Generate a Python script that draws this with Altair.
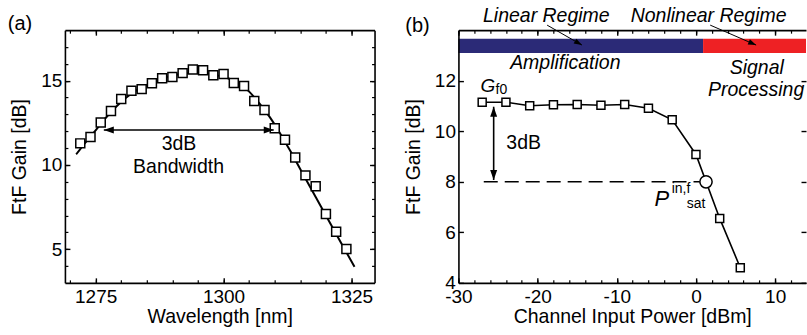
import altair as alt
import pandas as pd

FONT = "Liberation Sans"
BLACK = "#000000"
BLUE = "#2B2A77"
RED = "#EE2124"

# ---------------- panel (a) data ----------------
wavelength = [1272, 1274, 1276, 1278, 1280, 1282, 1284, 1286, 1288, 1290, 1292, 1294, 1296, 1298,
              1300, 1302, 1304, 1306, 1308, 1310, 1312, 1314, 1316, 1318, 1320, 1322, 1324]
gain_a = [11.28, 11.66, 12.52, 13.20, 13.92, 14.41, 14.50, 14.85, 15.14, 15.22, 15.45, 15.67, 15.62, 15.33,
          15.40, 14.87, 14.68, 13.79, 13.26, 12.18, 11.49, 10.44, 9.38, 8.73, 7.09, 6.04, 5.01]
fit_wavelength = [1271.2, 1273, 1275, 1277, 1279, 1281, 1283, 1285, 1287, 1289, 1291, 1293, 1295, 1297,
                  1299, 1300.8, 1303, 1305, 1307, 1309, 1311, 1313, 1315, 1317, 1319, 1321, 1323, 1325.6]
fit_gain = [10.63, 11.33, 12.05, 12.80, 13.45, 14.00, 14.42, 14.75, 15.02, 15.22, 15.37, 15.45, 15.47, 15.42,
            15.30, 15.15, 14.85, 14.35, 13.65, 12.85, 11.90, 10.85, 9.75, 8.65, 7.55, 6.45, 5.35, 3.95]
bw_left = [1276.6]
bw_right = [1309.8]
bw_level = [12.07]
bw_labels = ["3dB", "Bandwidth"]
bw_label_x = [1291.3, 1291.2]
bw_label_y = [11.22, 9.90]
a_x_major = [1275, 1300, 1325]
a_x_minor = [1270, 1275, 1280, 1285, 1290, 1295, 1300, 1305, 1310, 1315, 1320, 1325]
a_y_major = [5, 10, 15]
a_y_minor = [4, 5, 6, 7, 8, 9, 10, 11, 12, 13, 14, 15, 16, 17]

# ---------------- panel (b) data ----------------
p_in = [-27, -24, -21, -18, -15, -12, -9, -6, -3, 0, 3, 5.6]
gain_b = [11.15, 11.15, 11.01, 11.05, 11.06, 11.03, 11.06, 10.91, 10.45, 9.08, 6.55, 4.60]
p_sat = [1.27]
g_sat = [8.0]
ref_x = [-26.8]
ref_x2 = [0.5]
ref_y = [8.0]
gain_arrow_x = [-25.55]
gain_arrow_lo = [8.07]
gain_arrow_hi = [10.97]
regime_names = ["Linear", "Nonlinear"]
regime_start = [-30, 0.9]
regime_end = [0.9, 13.9]
regime_lo = [13.10, 13.10]
regime_hi = [13.66, 13.66]
reg_arrow_x = [-18.8, 1.8]
reg_arrow_y = [14.20, 14.20]
reg_tip_x = [-14.4, 7.6]
reg_tip_y = [13.41, 13.41]
italic_labels = ["Linear Regime", "Nonlinear Regime", "Amplification", "Signal", "Processing"]
italic_x = [-18.9, 1.6, -16.5, 7.68, 7.6]
italic_y = [14.55, 14.55, 12.71, 12.51, 11.62]
db_label = ["3dB"]
db_x = [-21.76]
db_y = [9.55]
g_label = ["G"]
g_x = [-26.28]
g_y = [11.79]
p_label = ["P"]
p_x = [-4.3]
p_y = [7.30]
small_labels = ["f0", "in,f", "sat"]
small_x = [-24.58, -1.89, 0.02]
small_y = [11.65, 7.72, 7.14]
b_x_major = [-30, -20, -10, 0, 10]
b_x_minor = [-30, -28, -26, -24, -22, -20, -18, -16, -14, -12, -10, -8, -6, -4, -2, 0, 2, 4, 6, 8, 10, 12]
b_y_major = [4, 6, 8, 10, 12]

TMAJ = 5
TMIN = 3
ARROW = "M0,0L0.7,2L-0.7,2Z"
PLAIN = "'' + datum.value"


def major_axis(orient, values, labels=False, **kw):
    return alt.Axis(orient=orient, values=values, offset=-TMAJ, tickSize=TMAJ, tickWidth=1.4,
                    tickColor=BLACK, domain=False, grid=False, labels=labels, labelFlush=False,
                    labelOverlap=False, zindex=1, **kw)


def minor_axis(orient, values):
    return alt.Axis(orient=orient, values=values, offset=-TMIN, tickSize=TMIN, tickWidth=1.2,
                    tickColor=BLACK, domain=False, grid=False, labels=False, zindex=1)


def frame_axis(orient):
    return alt.Axis(orient=orient, domain=True, domainColor=BLACK, domainWidth=1.6, ticks=False,
                    labels=False, grid=False, zindex=1)


def X(field, scale, axis, title=None):
    return alt.X(f"{field}:Q", scale=scale, axis=axis, title=title)


def Y(field, scale, axis, title=None):
    return alt.Y(f"{field}:Q", scale=scale, axis=axis, title=title)


# ---------------- panel (a) ----------------
xa = alt.Scale(domain=[1269, 1329.5], nice=False, zero=False)
ya = alt.Scale(domain=[3, 18], nice=False, zero=False)

df_fit = pd.DataFrame({"wl": fit_wavelength, "gain": fit_gain})
df_meas = pd.DataFrame({"wl": wavelength, "gain": gain_a})
df_bw = pd.DataFrame({"x1": bw_left, "x2": bw_right, "y": bw_level})
df_bw_l = pd.DataFrame({"x": bw_left, "y": bw_level})
df_bw_r = pd.DataFrame({"x": bw_right, "y": bw_level})
df_bw_t = pd.DataFrame({"t": bw_labels, "x": bw_label_x, "y": bw_label_y})

a_fit = alt.Chart(df_fit).mark_line(color=BLACK, strokeWidth=2, interpolate="monotone").encode(
    x=X("wl", xa, minor_axis("bottom", a_x_minor)),
    y=Y("gain", ya, minor_axis("left", a_y_minor)),
)
a_pts = alt.Chart(df_meas).mark_point(shape="square", size=81, filled=True, fill="white", stroke=BLACK,
                                      strokeWidth=1.5, opacity=1).encode(
    x=X("wl", xa, major_axis("bottom", a_x_major, labels=True, labelPadding=5, titlePadding=1,
                             labelExpr=PLAIN),
        title="Wavelength [nm]"),
    y=Y("gain", ya, major_axis("left", a_y_major, labels=True, labelPadding=3, titlePadding=11,
                               labelExpr=PLAIN),
        title="FtF Gain [dB]"),
)
a_rule = alt.Chart(df_bw).mark_rule(color=BLACK, strokeWidth=1.6).encode(
    x=X("x1", xa, major_axis("top", a_x_major)),
    x2="x2:Q",
    y=Y("y", ya, major_axis("right", a_y_major)),
)
a_head_l = alt.Chart(df_bw_l).mark_point(shape=ARROW, size=100, angle=270, filled=True, color=BLACK,
                                         opacity=1, strokeWidth=0).encode(
    x=X("x", xa, minor_axis("top", a_x_minor)),
    y=Y("y", ya, minor_axis("right", a_y_minor)),
)
a_head_r = alt.Chart(df_bw_r).mark_point(shape=ARROW, size=100, angle=90, filled=True, color=BLACK,
                                         opacity=1, strokeWidth=0).encode(
    x=X("x", xa, frame_axis("bottom")),
    y=Y("y", ya, frame_axis("left")),
)
a_text = alt.Chart(df_bw_t).mark_text(fontSize=19.5, align="center", baseline="middle").encode(
    x=X("x", xa, frame_axis("top")),
    y=Y("y", ya, frame_axis("right")),
    text="t:N",
)
a_tag = alt.Chart(pd.DataFrame({"t": ["(a)"]})).mark_text(fontSize=20, align="center", baseline="middle").encode(
    x=alt.value(-45), y=alt.value(-6), text="t:N"
)

panel_a = alt.layer(a_fit, a_pts, a_rule, a_head_l, a_head_r, a_text, a_tag).resolve_axis(
    x="independent", y="independent").properties(width=310, height=253)

# ---------------- panel (b) ----------------
xb = alt.Scale(domain=[-30, 13.9], nice=False, zero=False)
yb = alt.Scale(domain=[4, 14], nice=False, zero=False)

df_reg = pd.DataFrame({"name": regime_names, "x1": regime_start, "x2": regime_end,
                       "y1": regime_lo, "y2": regime_hi})
df_gain = pd.DataFrame({"p": p_in, "g": gain_b})
df_sat = pd.DataFrame({"p": p_sat, "g": g_sat})
df_ref = pd.DataFrame({"x1": ref_x, "x2": ref_x2, "y": ref_y})
df_va = pd.DataFrame({"x": gain_arrow_x, "y1": gain_arrow_lo, "y2": gain_arrow_hi})
df_va_up = pd.DataFrame({"x": gain_arrow_x, "y": gain_arrow_hi})
df_va_dn = pd.DataFrame({"x": gain_arrow_x, "y": gain_arrow_lo})
df_ra = pd.DataFrame({"x1": reg_arrow_x, "y1": reg_arrow_y, "x2": reg_tip_x, "y2": reg_tip_y})
df_ra1 = pd.DataFrame({"x": reg_tip_x[:1], "y": reg_tip_y[:1]})
df_ra2 = pd.DataFrame({"x": reg_tip_x[1:], "y": reg_tip_y[1:]})
df_it = pd.DataFrame({"t": italic_labels, "x": italic_x, "y": italic_y})
df_db = pd.DataFrame({"t": db_label, "x": db_x, "y": db_y})
df_g = pd.DataFrame({"t": g_label, "x": g_x, "y": g_y})
df_p = pd.DataFrame({"t": p_label, "x": p_x, "y": p_y})
df_sm = pd.DataFrame({"t": small_labels, "x": small_x, "y": small_y})

b_bars = alt.Chart(df_reg).mark_rect().encode(
    x=X("x1", xb, major_axis("top", b_x_major)),
    x2="x2:Q",
    y=Y("y1", yb, major_axis("right", b_y_major)),
    y2="y2:Q",
    color=alt.Color("name:N", scale=alt.Scale(domain=regime_names, range=[BLUE, RED]), legend=None),
)
b_ref = alt.Chart(df_ref).mark_rule(color=BLACK, strokeWidth=1.6, strokeDash=[14, 7]).encode(
    x=X("x1", xb, minor_axis("top", b_x_minor)),
    x2="x2:Q",
    y=Y("y", yb, None),
)
b_line = alt.Chart(df_gain).mark_line(color=BLACK, strokeWidth=1.6).encode(
    x=X("p", xb, minor_axis("bottom", b_x_minor)),
    y=Y("g", yb, None),
)
b_pts = alt.Chart(df_gain).mark_point(shape="square", size=64, filled=True, fill="white", stroke=BLACK,
                                      strokeWidth=1.5, opacity=1).encode(
    x=X("p", xb, major_axis("bottom", b_x_major, labels=True, labelPadding=5, titlePadding=1,
                            labelExpr=PLAIN),
        title="Channel Input Power [dBm]"),
    y=Y("g", yb, major_axis("left", b_y_major, labels=True, labelPadding=3, titlePadding=11,
                            labelExpr=PLAIN),
        title="FtF Gain [dB]"),
)
b_sat = alt.Chart(df_sat).mark_point(shape="circle", size=150, filled=True, fill="white", stroke=BLACK,
                                     strokeWidth=1.5, opacity=1).encode(
    x=X("p", xb, frame_axis("bottom")),
    y=Y("g", yb, frame_axis("left")),
)
b_va = alt.Chart(df_va).mark_rule(color=BLACK, strokeWidth=1.6).encode(
    x=X("x", xb, frame_axis("top")),
    y=Y("y1", yb, None),
    y2="y2:Q",
)
b_va_up = alt.Chart(df_va_up).mark_point(shape=ARROW, size=100, angle=0, filled=True, color=BLACK,
                                         opacity=1, strokeWidth=0).encode(
    x=X("x", xb, None), y=Y("y", yb, None))
b_va_dn = alt.Chart(df_va_dn).mark_point(shape=ARROW, size=100, angle=180, filled=True, color=BLACK,
                                         opacity=1, strokeWidth=0).encode(
    x=X("x", xb, None), y=Y("y", yb, None))
b_ra = alt.Chart(df_ra).mark_rule(color=BLACK, strokeWidth=1).encode(
    x=X("x1", xb, None), y=Y("y1", yb, None), x2="x2:Q", y2="y2:Q")
b_ra1 = alt.Chart(df_ra1).mark_point(shape=ARROW, size=64, angle=119.7, filled=True, color=BLACK,
                                     opacity=1, strokeWidth=0).encode(
    x=X("x", xb, None), y=Y("y", yb, None))
b_ra2 = alt.Chart(df_ra2).mark_point(shape=ARROW, size=64, angle=113.5, filled=True, color=BLACK,
                                     opacity=1, strokeWidth=0).encode(
    x=X("x", xb, None), y=Y("y", yb, None))
b_it = alt.Chart(df_it).mark_text(fontSize=19.5, fontStyle="italic", align="center", baseline="middle").encode(
    x=X("x", xb, None), y=Y("y", yb, None), text="t:N")
b_db = alt.Chart(df_db).mark_text(fontSize=19.5, align="center", baseline="middle").encode(
    x=X("x", xb, None), y=Y("y", yb, None), text="t:N")
b_g = alt.Chart(df_g).mark_text(fontSize=19, fontStyle="italic", align="center", baseline="middle").encode(
    x=X("x", xb, None), y=Y("y", yb, None), text="t:N")
b_p = alt.Chart(df_p).mark_text(fontSize=22, fontStyle="italic", align="center", baseline="middle").encode(
    x=X("x", xb, None), y=Y("y", yb, None), text="t:N")
b_sm = alt.Chart(df_sm).mark_text(fontSize=14, align="center", baseline="middle").encode(
    x=X("x", xb, None), y=Y("y", yb, None), text="t:N")
b_tag = alt.Chart(pd.DataFrame({"t": ["(b)"]})).mark_text(fontSize=20, align="center", baseline="middle").encode(
    x=alt.value(-41), y=alt.value(-4), text="t:N"
)

panel_b = alt.layer(b_bars, b_ref, b_line, b_pts, b_sat, b_va, b_va_up, b_va_dn, b_ra, b_ra1, b_ra2,
                    b_it, b_db, b_g, b_p, b_sm, b_tag).resolve_axis(
    x="independent", y="independent").properties(width=348, height=253)

chart = alt.hconcat(panel_a, panel_b, spacing=84, bounds="flush",
                    padding={"left": 7, "top": 6, "right": 0, "bottom": 0}).configure_view(
    stroke=None
).configure_axis(
    labelFont=FONT, labelFontSize=19, labelColor=BLACK,
    titleFont=FONT, titleFontSize=19.5, titleColor=BLACK, titleFontWeight="normal"
).configure_text(font=FONT, color=BLACK)

chart.save("out.html", embed_options={"renderer": "svg", "actions": False})
